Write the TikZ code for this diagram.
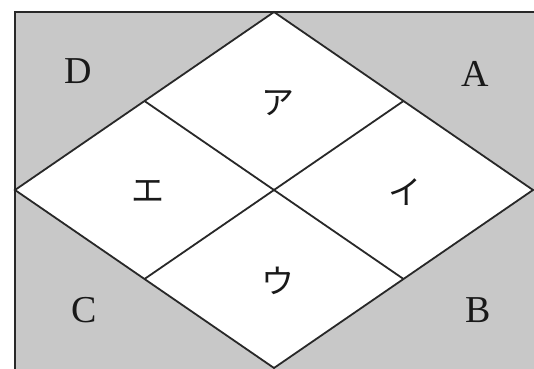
\documentclass[tikz,border=0pt]{standalone}
\usepackage{fontspec}
\usetikzlibrary{calc}
\setmainfont{Liberation Serif}
\newfontfamily\jpfont{Noto Sans CJK JP}
\definecolor{bggray}{RGB}{200,200,200}
\definecolor{linegray}{RGB}{40,40,40}
\tikzset{
  edge/.style={draw=linegray, line width=1.8pt, line join=miter},
  letter/.style={font=\fontsize{38}{38}\selectfont, text=black!90},
  kana/.style={font=\jpfont\fontsize{33}{33}\selectfont, text=black!90}
}
\begin{document}
\begin{tikzpicture}[x=1pt,y=1pt]
\useasboundingbox (0,0) rectangle (534,368);
\clip (0,0) rectangle (534,368);
\fill[white] (0,0) rectangle (534,368);
% gray rectangle
\fill[bggray] (15,-5) rectangle (545,356);
\draw[edge, line width=2.2pt] (15,-5) -- (15,356) -- (545,356);
% rhombus corners
\coordinate (L) at (15,178);
\coordinate (T) at (274,356);
\coordinate (R) at (533,178);
\coordinate (B) at (274,0);
\fill[white] (L) -- (T) -- (R) -- (B) -- cycle;
\draw[edge] (L) -- (T) -- (R) -- (B) -- cycle;
% inner lines
\coordinate (mTL) at ($(L)!0.5!(T)$);
\coordinate (mTR) at ($(T)!0.5!(R)$);
\coordinate (mBR) at ($(R)!0.5!(B)$);
\coordinate (mBL) at ($(B)!0.5!(L)$);
\draw[edge] (mTL) -- (mBR);
\draw[edge] (mTR) -- (mBL);
% corner letters
\node[letter] (D) at (78,297) {D};
\node[letter] (A) at (475,294) {A};
\node[letter] (C) at (84,58) {C};
\node[letter] (Bl) at (478,58) {B};
% kana
\node[kana] (ka) at (278,265) {ア};
\node[kana] (ki) at (405,176) {イ};
\node[kana] (ku) at (278,87) {ウ};
\node[kana] (ke) at (148,177) {エ};
\end{tikzpicture}
\end{document}
